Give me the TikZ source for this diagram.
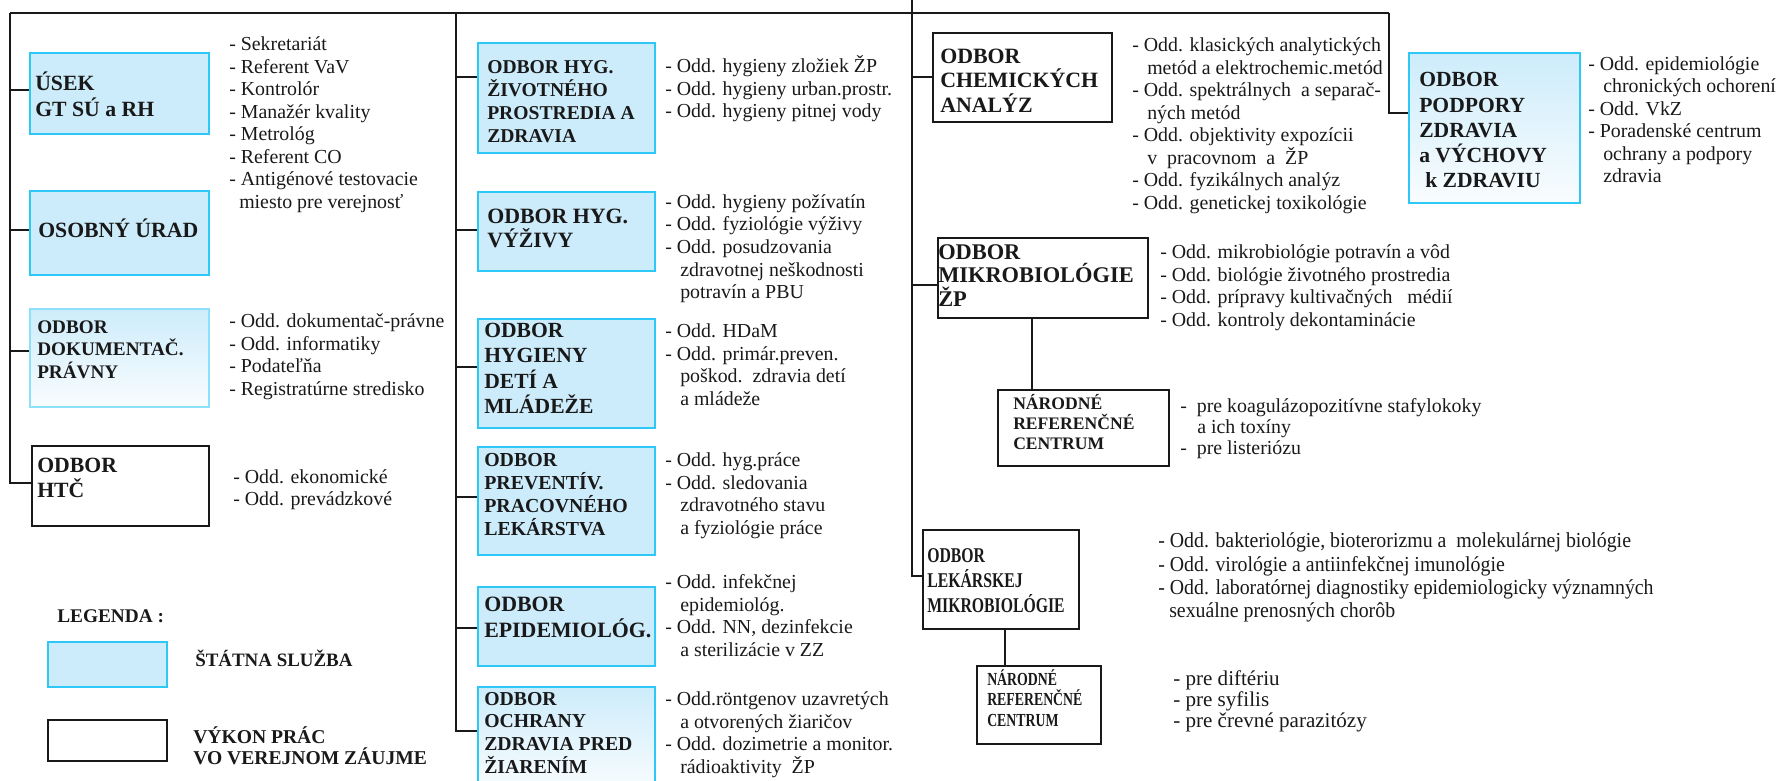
\documentclass[tikz,border=0pt]{standalone}
\usepackage{fontspec}
\setmainfont{Liberation Serif}
\newfontfamily\condfont[FakeStretch=0.75]{Liberation Serif}
\newfontfamily\condlist[FakeStretch=0.93]{Liberation Serif}
\newdimen\px \px=0.75pt
\newcommand\ttl[2]{\bfseries\fontsize{#1}{#2}\selectfont}
\newcommand\lst[2]{\fontsize{#1}{#2}\selectfont}
\newcommand\ind{\hspace*{15\px}}
\definecolor{sfill}{RGB}{205,236,251}
\definecolor{sline}{RGB}{45,200,245}
\definecolor{ink}{RGB}{25,25,25}
\begin{document}
\begin{tikzpicture}[x=0.75pt, y=-0.75pt,
  conn/.style={draw=ink, line width=1.4pt},
  box/.style 2 args={minimum width=#1*\px, minimum height=#2*\px, inner sep=0pt, anchor=north west, line width=1.3pt},
  sbox/.style={fill=sfill, draw=sline},
  gbox/.style={top color=sfill, bottom color=sfill!12, draw=sline},
  pbox/.style={fill=white, draw=ink},
  txt/.style={anchor=west, inner sep=0pt, align=left, text=ink, execute at begin node=\strut, execute at end node=\strut},
  lst/.style={txt, font=\lst{14.9}{16.9}}
]
\clip (0,0) rectangle (1778,781);
% ---------- trunk coordinates
\coordinate (top) at (912,0);
\coordinate (TC) at (912,13);
\coordinate (TL) at (10,13);
\coordinate (TM) at (456,13);
\coordinate (TR) at (1389,13);

% ---------- boxes
\node[box={179}{81}, sbox] (usek) at (29,52) {};
\node[box={179}{84}, sbox] (osob) at (29,190) {};
\node[box={179}{98}, gbox, draw=sline!55] (dok) at (29,308) {};
\node[box={177}{80}, pbox] (htc) at (31,445) {};

\node[box={177}{110}, sbox] (zhyg) at (477,42) {};
\node[box={177}{79}, sbox] (vyz) at (477,191) {};
\node[box={177}{109}, sbox] (det) at (477,318) {};
\node[box={177}{108}, sbox] (prev) at (477,446) {};
\node[box={177}{79}, sbox] (epi) at (477,586) {};
\node[box={177}{105}, gbox] (ochr) at (477,686) {};

\node[box={179}{89}, pbox] (chem) at (932,32) {};
\node[box={210}{80}, pbox] (mik) at (937,237) {};
\node[box={171}{76}, pbox] (nrc1) at (997,389) {};
\node[box={156}{99}, pbox] (lek) at (922,529) {};
\node[box={124}{78}, pbox] (nrc2) at (976,665) {};
\node[box={171}{150}, gbox] (podp) at (1408,52) {};

% ---------- connectors
\draw[conn] (top) -- (TC);
\draw[conn] (TL) -- (TR);
\draw[conn] (TL) |- (htc.west |- 0,483);
\draw[conn] (TL |- 0,90) -- (usek.west |- 0,90);
\draw[conn] (TL |- 0,230) -- (osob.west |- 0,230);
\draw[conn] (TL |- 0,351) -- (dok.west |- 0,351);

\draw[conn] (TM) |- (ochr.west |- 0,731);
\draw[conn] (TM |- 0,77) -- (zhyg.west |- 0,77);
\draw[conn] (TM |- 0,230) -- (vyz.west |- 0,230);
\draw[conn] (TM |- 0,367) -- (det.west |- 0,367);
\draw[conn] (TM |- 0,497) -- (prev.west |- 0,497);
\draw[conn] (TM |- 0,628) -- (epi.west |- 0,628);

\draw[conn] (TC) |- (lek.west |- 0,576);
\draw[conn] (TC |- 0,77) -- (chem.west |- 0,77);
\draw[conn] (TC |- 0,285) -- (mik.west |- 0,285);
\draw[conn] (TR) |- (podp.west |- 0,113);
\draw[conn] (mik.south -| 1032,0) -- (nrc1.north -| 1032,0);
\draw[conn] (lek.south -| 1005,0) -- (nrc2.north -| 1005,0);

% ---------- titles
\node[txt, font=\ttl{16.3}{19}] (usekT) at (35,98) {ÚSEK\\GT SÚ a RH};
\node[txt, font=\ttl{16.3}{19}] (osobT) at (38,232) {OSOBNÝ ÚRAD};
\node[txt, font=\ttl{14.4}{16.9}] (dokT) at (37,353) {ODBOR\\DOKUMENTAČ.\\PRÁVNY};
\node[txt, font=\ttl{16.3}{18.75}] (htcT) at (37,482) {ODBOR\\HTČ};

\node[txt, font=\ttl{14.7}{17.25}] (zhygT) at (487,105) {ODBOR HYG.\\ŽIVOTNÉHO\\PROSTREDIA A\\ZDRAVIA};
\node[txt, font=\ttl{16.4}{18}] (vyzT) at (487,232) {ODBOR HYG.\\VÝŽIVY};
\node[txt, font=\ttl{16.2}{19.1}] (detT) at (484,372) {ODBOR\\HYGIENY\\DETÍ A\\MLÁDEŽE};
\node[txt, font=\ttl{14.9}{17.25}] (prevT) at (484,498) {ODBOR\\PREVENTÍV.\\PRACOVNÉHO\\LEKÁRSTVA};
\node[txt, font=\ttl{16.4}{19.5}] (epiT) at (484,621) {ODBOR\\EPIDEMIOLÓG.};
\node[txt, font=\ttl{14.8}{17}] (ochrT) at (484,736) {ODBOR\\OCHRANY\\ZDRAVIA PRED\\ŽIARENÍM};

\node[txt, font=\ttl{16.4}{18.4}] (chemT) at (940,84) {ODBOR\\CHEMICKÝCH\\ANALÝZ};
\node[txt, font=\ttl{16.8}{17.6}] (mikT) at (938,279) {ODBOR\\MIKROBIOLÓGIE\\ŽP};
\node[txt, font={\condfont\ttl{15.75}{18.75}}] (lekT) at (927,584) {ODBOR\\LEKÁRSKEJ\\MIKROBIOLÓGIE};
\node[txt, font=\ttl{16.2}{18.9}] (podpT) at (1419,134) {ODBOR\\PODPORY\\ZDRAVIA\\a VÝCHOVY\\\hspace*{6\px}k ZDRAVIU};
\node[txt, font=\ttl{13.2}{15}] (nrc1T) at (1013,425) {NÁRODNÉ\\REFERENČNÉ\\CENTRUM};
\node[txt, font={\condfont\ttl{13.8}{15.4}}] (nrc2T) at (987,701) {NÁRODNÉ\\REFERENČNÉ\\CENTRUM};

% ---------- lists
\node[lst] (L1) at (229,126) {- Sekretariát\\- Referent VaV\\- Kontrolór\\- Manažér kvality\\- Metrológ\\- Referent CO\\- Antigénové testovacie\\\hspace*{10\px}miesto pre verejnosť};
\node[lst] (L2) at (229,358) {- Odd. dokumentač-právne\\- Odd. informatiky\\- Podateľňa\\- Registratúrne stredisko};
\node[txt, font=\lst{14.9}{16.5}] (L3) at (233,491) {- Odd. ekonomické\\- Odd. prevádzkové};

\node[lst] (M1) at (665,90) {- Odd. hygieny zložiek ŽP\\- Odd. hygieny urban.prostr.\\- Odd. hygieny pitnej vody};
\node[lst] (M2) at (665,250) {- Odd. hygieny požívatín\\- Odd. fyziológie výživy\\- Odd. posudzovania\\\ind zdravotnej neškodnosti\\\ind potravín a PBU};
\node[lst] (M3) at (665,368) {- Odd. HDaM\\- Odd. primár.preven.\\\ind poškod.\ \ zdravia detí\\\ind a mládeže};
\node[lst] (M4) at (665,497) {- Odd. hyg.práce\\- Odd. sledovania\\\ind zdravotného stavu\\\ind a fyziológie práce};
\node[lst] (M5) at (665,619) {- Odd. infekčnej\\\ind epidemiológ.\\- Odd. NN, dezinfekcie\\\ind a sterilizácie v ZZ};
\node[lst] (M6) at (665,736) {- Odd.röntgenov uzavretých\\\ind a otvorených žiaričov\\- Odd. dozimetrie a monitor.\\\ind rádioaktivity\ \ ŽP};

\node[lst] (R1) at (1132,127) {- Odd. klasických analytických\\\ind metód a elektrochemic.metód\\- Odd. spektrálnych\ \ a separač-\\\ind ných metód\\- Odd. objektivity expozícii\\\ind v\ \ pracovnom\ \ a\ \ ŽP\\- Odd. fyzikálnych analýz\\- Odd. genetickej toxikológie};
\node[lst] (R2) at (1588,123) {- Odd. epidemiológie\\\ind chronických ochorení\\- Odd. VkZ\\- Poradenské centrum\\\ind ochrany a podpory\\\ind zdravia};
\node[lst] (R3) at (1160,289) {- Odd. mikrobiológie potravín a vôd\\- Odd. biológie životného prostredia\\- Odd. prípravy kultivačných\ \ \ médií\\- Odd. kontroly dekontaminácie};
\node[txt, font=\lst{14.9}{15.75}] (R4) at (1180,430) {-\ \ pre koagulázopozitívne stafylokoky\\\hspace*{17\px}a ich toxíny\\-\ \ pre listeriózu};
\node[txt, font={\condlist\lst{16}{17.5}}] (R5) at (1158,579) {- Odd. bakteriológie, bioterorizmu a\ \ molekulárnej biológie\\- Odd. virológie a antiinfekčnej imunológie\\- Odd. laboratórnej diagnostiky epidemiologicky významných\\\hspace*{11\px}sexuálne prenosných chorôb};
\node[txt, font=\lst{15.8}{15.75}] (R6) at (1173,702) {- pre diftériu\\- pre syfilis\\- pre črevné parazitózy};

% ---------- legend
\node[txt, font=\ttl{14.5}{17}] (legT) at (57,618) {LEGENDA :};
\node[box={119}{45}, sbox] (legS) at (47,641) {};
\node[txt, font=\ttl{14.2}{17}] (legST) at (195,662) {ŠTÁTNA SLUŽBA};
\node[box={119}{41}, pbox] (legP) at (47,719) {};
\node[txt, font=\ttl{14.7}{15.75}] (legPT) at (193,749) {VÝKON PRÁC\\VO VEREJNOM ZÁUJME};
\end{tikzpicture}
\end{document}
